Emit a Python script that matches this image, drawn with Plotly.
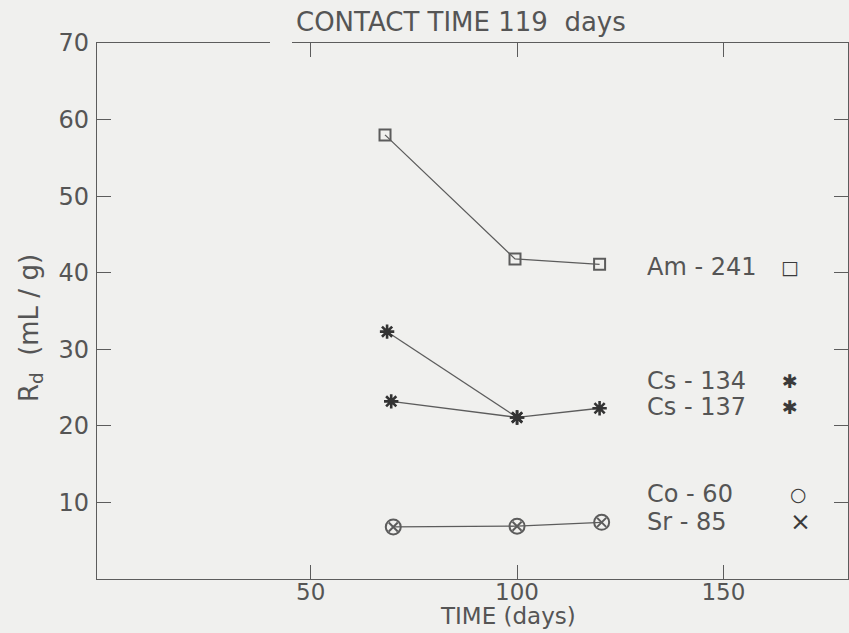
import plotly.graph_objects as go

# Measurement times (days) and distribution ratios Rd (mL/g)
am241_t = [68, 99.5, 120]
am241_rd = [58.0, 41.8, 41.1]

cs134_t = [68.5, 100]
cs134_rd = [32.3, 21.1]

cs137_t = [69.5, 100, 120]
cs137_rd = [23.2, 21.1, 22.3]

co60_t = [70, 100, 120.5]
co60_rd = [6.8, 6.9, 7.4]

sr85_t = [70, 100, 120.5]
sr85_rd = [6.8, 6.9, 7.4]

x_ticks = [50, 100, 150]
y_ticks = [10, 20, 30, 40, 50, 60, 70]

# key entries: label, symbol, Rd level where the entry sits, symbol position
key_labels = ["Am - 241", "Cs - 134", "Cs - 137", "Co - 60", "Sr - 85"]
key_symbols = ["\u25a1", "\u2731", "\u2731", "\u25cb", "\u00d7"]
key_sym_size = [19, 19, 19, 19, 25]
key_levels = [40.7, 25.8, 22.4, 11.1, 7.5]
key_sym_x = [166.2, 166.2, 166.2, 168.3, 168.6]

BG = "#f0f0ee"
INK = "#555555"
LINE = "#5c5c5c"
FONT = "DejaVu Sans"

fig = go.Figure()

line_style = dict(color=LINE, width=1.3)

fig.add_trace(go.Scatter(x=am241_t, y=am241_rd, mode="lines+markers", line=line_style,
                         marker=dict(symbol="square-open", size=11, color=LINE,
                                     line=dict(width=2, color=LINE))))
fig.add_trace(go.Scatter(x=cs134_t, y=cs134_rd, mode="lines+markers", line=line_style,
                         marker=dict(symbol="asterisk-open", size=12, color="#333333",
                                     line=dict(width=2.6, color="#333333"))))
fig.add_trace(go.Scatter(x=cs137_t, y=cs137_rd, mode="lines+markers", line=line_style,
                         marker=dict(symbol="asterisk-open", size=12, color="#333333",
                                     line=dict(width=2.6, color="#333333"))))
fig.add_trace(go.Scatter(x=co60_t, y=co60_rd, mode="lines+markers", line=line_style,
                         marker=dict(symbol="circle-open", size=15, color=LINE,
                                     line=dict(width=2, color=LINE))))
fig.add_trace(go.Scatter(x=sr85_t, y=sr85_rd, mode="markers",
                         marker=dict(symbol="x-thin-open", size=9, color=LINE,
                                     line=dict(width=2, color=LINE))))

annotations = []
for lab, sym, ss, lev, sx in zip(key_labels, key_symbols, key_sym_size, key_levels, key_sym_x):
    annotations.append(dict(x=131, y=lev, xref="x", yref="y", text=lab,
                            showarrow=False, xanchor="left", yanchor="middle",
                            font=dict(family=FONT, size=24, color=INK)))
    annotations.append(dict(x=sx, y=lev, xref="x", yref="y", text=sym,
                            showarrow=False, xanchor="center", yanchor="middle",
                            font=dict(family=FONT, size=ss, color="#3a3a3a")))

annotations.append(dict(x=461, y=611, xref="paper", yref="paper", text="CONTACT TIME 119  days",
                        showarrow=False, xanchor="center", yanchor="middle",
                        font=dict(family=FONT, size=26, color=INK)))
annotations.append(dict(x=508, y=17, xref="paper", yref="paper", text="TIME (days)",
                        showarrow=False, xanchor="center", yanchor="middle",
                        font=dict(family=FONT, size=23, color=INK)))
annotations.append(dict(x=30, y=305, xref="paper", yref="paper", text="R<sub>d</sub>  (mL / g)",
                        showarrow=False, xanchor="center", yanchor="middle", textangle=-90,
                        font=dict(family=FONT, size=26, color=INK)))

# convert pixel-placed text anchors to paper fractions
W, H = 849, 633
L, R, T, B = 97, 1, 43, 54
pw, ph = W - L - R, H - T - B
for a in annotations:
    if a["xref"] == "paper":
        a["x"] = (a["x"] - L) / pw
        a["y"] = (a["y"] - B) / ph

fig.update_layout(
    width=W, height=H,
    margin=dict(l=L, r=R, t=T, b=B, pad=0),
    paper_bgcolor=BG, plot_bgcolor=BG,
    showlegend=False,
    font=dict(family=FONT, size=24, color=INK),
    annotations=annotations,
    shapes=[dict(type="rect", xref="paper", yref="paper",
                 x0=(270 - L) / pw, x1=(292 - L) / pw, y0=0.99, y1=1.02,
                 fillcolor=BG, line=dict(width=0), layer="above")],
)

fig.update_xaxes(range=[-1.8, 180.2], tickvals=x_ticks, ticktext=[str(v) for v in x_ticks],
                 ticks="inside", ticklen=14, tickwidth=1.3, tickcolor=LINE,
                 showline=True, linecolor=LINE, linewidth=1.3, mirror="ticks",
                 showgrid=False, zeroline=False, ticklabelstandoff=-8,
                 tickfont=dict(family=FONT, size=23, color=INK))
fig.update_yaxes(range=[0, 70], tickvals=y_ticks, ticktext=[str(v) for v in y_ticks],
                 ticks="inside", ticklen=14, tickwidth=1.3, tickcolor=LINE,
                 showline=True, linecolor=LINE, linewidth=1.3, mirror="ticks",
                 showgrid=False, zeroline=False, ticklabelstandoff=2,
                 tickfont=dict(family=FONT, size=24, color=INK))

fig.write_html("out.html")
